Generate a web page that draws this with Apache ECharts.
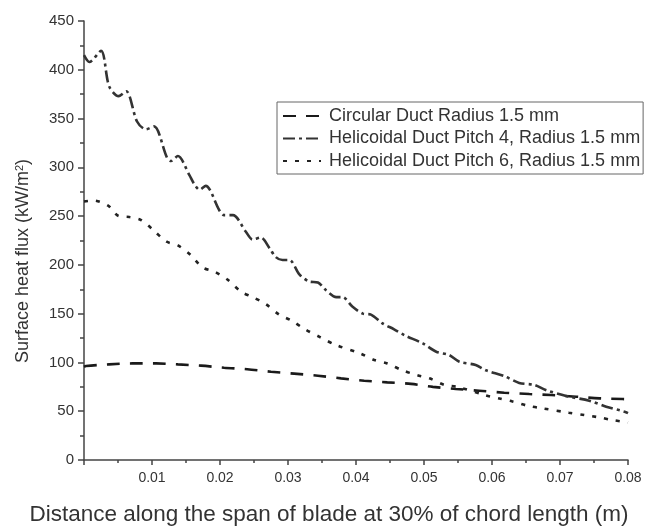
<!DOCTYPE html>
<html>
<head>
<meta charset="utf-8">
<script src="https://cdn.jsdelivr.net/npm/echarts@6/dist/echarts.min.js"></script>
<style>html,body{margin:0;padding:0;background:#fff}#c{width:645px;height:527px}</style>
</head>
<body>
<div id="c"></div>
<script>
var xTicks = [0, 0.01, 0.02, 0.03, 0.04, 0.05, 0.06, 0.07, 0.08];
var yTicks = [0, 50, 100, 150, 200, 250, 300, 350, 400, 450];

var circularX = [0, 0.0003, 0.0037, 0.0071, 0.0106, 0.0138, 0.0172, 0.0206, 0.0240, 0.0275, 0.0309, 0.0344, 0.0378, 0.0412, 0.0446, 0.0481, 0.0513, 0.0547, 0.0581, 0.0618, 0.0655, 0.0687, 0.0724, 0.0758, 0.0792, 0.08];
var circularY = [95.5, 96.4, 98, 99, 99, 98, 96.7, 94.6, 93, 90.5, 88.5, 86.4, 83.7, 81.3, 79.6, 78, 75, 72.8, 71, 69, 67.6, 66.6, 64.9, 63.2, 62.5, 62.3];

var pitch4X = [0, 0.00078, 0.0025, 0.0037, 0.0051, 0.0062, 0.0078, 0.0091, 0.0103, 0.0122, 0.0128, 0.0138, 0.0155, 0.0162, 0.0170, 0.0179, 0.0199, 0.0206, 0.0219, 0.0238, 0.0248, 0.0260, 0.0273, 0.0282, 0.0292, 0.0302, 0.0317, 0.0331, 0.0344, 0.0356, 0.0371, 0.0380, 0.0395, 0.0410, 0.0422, 0.0439, 0.0456, 0.0471, 0.0498, 0.0518, 0.0537, 0.0552, 0.0576, 0.0591, 0.0618, 0.0640, 0.0662, 0.0679, 0.0709, 0.0743, 0.0768, 0.0795, 0.08];
var pitch4Y = [415, 408, 419.5, 383, 373, 378, 347, 339, 342, 310, 306.5, 311.6, 292, 283, 277, 281, 256, 251, 251, 234, 226, 228, 217, 208, 205, 205, 190, 183, 182, 174, 167, 167, 157, 150, 149, 140, 134, 128, 119.6, 111, 107.6, 100.8, 97.4, 92, 86, 79, 77, 71.8, 65.6, 60.8, 54.7, 49.5, 48];

var pitch6X = [0, 0.0013, 0.0035, 0.0051, 0.0067, 0.0084, 0.0103, 0.0121, 0.0138, 0.0157, 0.0174, 0.0192, 0.0211, 0.0231, 0.0248, 0.0267, 0.0287, 0.0305, 0.0325, 0.0347, 0.0370, 0.0407, 0.0427, 0.0446, 0.0468, 0.0490, 0.0508, 0.0530, 0.0549, 0.0589, 0.0611, 0.0630, 0.0652, 0.0674, 0.0713, 0.0736, 0.0755, 0.0777, 0.0795, 0.08];
var pitch6Y = [265, 266, 261, 250, 249, 246, 235, 224, 220, 210, 197.5, 193, 185, 172.5, 167, 160, 149, 143, 134, 126, 118, 109, 102.5, 99, 92, 87, 83.7, 77, 75, 66.6, 63, 60, 55.7, 53, 48.5, 46, 44, 41, 39, 38.5];

var seriesNames = ['Circular Duct Radius 1.5 mm', 'Helicoidal Duct Pitch 4, Radius 1.5 mm', 'Helicoidal Duct Pitch 6, Radius 1.5 mm'];

function zip(a, b) { return a.map(function (v, i) { return [v, b[i]]; }); }

var FONT = 'Liberation Sans, Arial, Helvetica, sans-serif';
var chart = echarts.init(document.getElementById('c'));
chart.setOption({
  backgroundColor: '#fff',
  animation: false,
  textStyle: { fontFamily: FONT },
  grid: { left: 84, right: 17, top: 21, bottom: 67, containLabel: false },
  legend: {
    orient: 'vertical',
    left: 277, top: 102,
    padding: [5, 3, 4, 5],
    itemWidth: 38, itemHeight: 14, itemGap: 4.5,
    borderColor: '#666', borderWidth: 1,
    itemStyle: { opacity: 0 },
    textStyle: { fontFamily: FONT, fontSize: 18, color: '#333', padding: [0, 0, 0, 3] },
    data: seriesNames
  },
  xAxis: {
    type: 'value', min: 0, max: 0.08, interval: 0.01,
    axisLine: { lineStyle: { color: '#444', width: 1.5 } },
    axisTick: { length: 5, lineStyle: { color: '#444', width: 1.5 } },
    minorTick: { show: true, splitNumber: 2, length: 3, lineStyle: { color: '#444', width: 1.5 } },
    splitLine: { show: false },
    axisLabel: {
      fontSize: 14, color: '#333', margin: 11, fontFamily: FONT,
      formatter: function (v) { return v === 0 ? '' : v.toFixed(2); }
    }
  },
  yAxis: {
    type: 'value', min: 0, max: 450, interval: 50,
    axisLine: { show: true, lineStyle: { color: '#444', width: 1.5 } },
    axisTick: { show: true, length: 6, lineStyle: { color: '#444', width: 1.5 } },
    minorTick: { show: true, splitNumber: 2, length: 4, lineStyle: { color: '#444', width: 1.5 } },
    splitLine: { show: false },
    axisLabel: { fontSize: 15, color: '#333', margin: 10, fontFamily: FONT }
  },
  graphic: [
    {
      type: 'text', x: 329, y: 515,
      style: {
        text: 'Distance along the span of blade at 30% of chord length (m)',
        fill: '#333', font: '22.5px ' + FONT, textAlign: 'center', textVerticalAlign: 'middle'
      }
    },
    {
      type: 'text', x: 23, y: 261, rotation: Math.PI / 2,
      style: {
        text: '{a|Surface heat flux (kW/m}{s|2}{a|)}',
        textAlign: 'center', textVerticalAlign: 'middle',
        rich: {
          a: { fontSize: 18, fontFamily: FONT, fill: '#333', color: '#333' },
          s: { fontSize: 11, fontFamily: FONT, verticalAlign: 'top', lineHeight: 11, color: '#333', fill: '#333', padding: [0, 0, 9, 0] }
        }
      }
    }
  ],
  series: [
    {
      name: seriesNames[0], type: 'line', symbol: 'none', smooth: 0.3,
      data: zip(circularX, circularY),
      lineStyle: { color: '#1a1a1a', width: 2.6, type: [13, 10] },
      itemStyle: { color: '#1a1a1a' }
    },
    {
      name: seriesNames[1], type: 'line', symbol: 'none', smooth: 0.3,
      data: zip(pitch4X, pitch4Y),
      lineStyle: { color: '#333', width: 2.6, type: [12, 4, 3, 4] },
      itemStyle: { color: '#333' }
    },
    {
      name: seriesNames[2], type: 'line', symbol: 'none', smooth: 0.3,
      data: zip(pitch6X, pitch6Y),
      lineStyle: { color: '#222', width: 2.6, type: [4, 8] },
      itemStyle: { color: '#222' }
    }
  ]
});
</script>
</body>
</html>
